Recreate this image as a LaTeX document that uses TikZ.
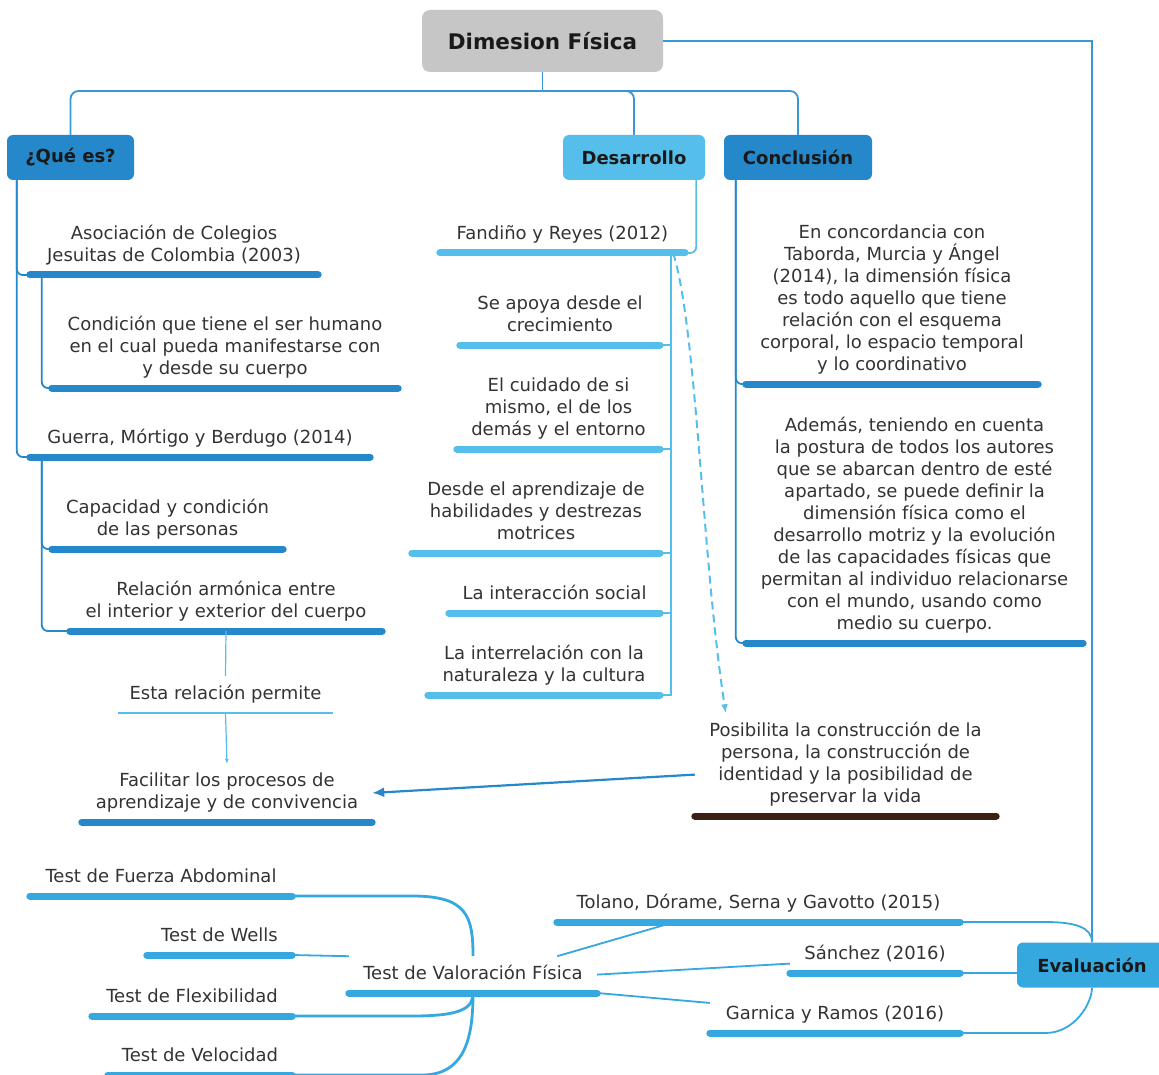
\documentclass[tikz,border=0pt]{standalone}
\usepackage{fontspec}
\setmainfont{DejaVu Sans}
\usetikzlibrary{arrows.meta}

\definecolor{ink}{HTML}{333333}
\definecolor{rootgray}{HTML}{C6C6C6}
\definecolor{dblue}{HTML}{2488CA}
\definecolor{lblue}{HTML}{56BEEB}
\definecolor{eblue}{HTML}{35A8E0}
\definecolor{trunk}{HTML}{3A96D4}
\definecolor{darkbrown}{HTML}{3B2215}

\tikzset{
  head/.style={rounded corners=6pt, minimum height=45pt, inner sep=0pt, text=black!90,
    font=\bfseries\fontsize{18}{22}\selectfont},
  topic/.style={anchor=south, align=center, inner xsep=0pt, inner ysep=9pt, text depth=4pt,
    minimum width=#1, text=ink, font=\fontsize{18}{22}\selectfont},
  uline/.style={line width=7pt, line cap=round, draw=#1},
  conn/.style={line width=1.8pt, draw=#1},
}

\begin{document}
\begin{tikzpicture}[x=1pt,y=-1pt]
\useasboundingbox (0,0) rectangle (1159,1075);

% cabeceras
\node (root) at (542.5,41) [head, fill=rootgray, minimum width=241pt, minimum height=62pt, rounded corners=8pt, font=\bfseries\fontsize{21.5}{26}\selectfont] {Dimesion Física};
\node (que) at (70.5,157.5) [head, fill=dblue, minimum width=127pt] {¿Qué es?};
\node (des) at (634,157.5) [head, fill=lblue, minimum width=142pt] {Desarrollo};
\node (concl) at (798,157.5) [head, fill=dblue, minimum width=148pt] {Conclusión};
\node (eval) at (1092,965) [head, fill=eblue, minimum width=150pt] {Evaluación};

% ¿Qué es?
\node (asoc) at (174,275) [topic=288pt] {Asociación de Colegios\\Jesuitas de Colombia (2003)};
\node (cond) at (225,388) [topic=346pt] {Condición que tiene el ser humano\\en el cual pueda manifestarse con\\y desde su cuerpo};
\node (guerra) at (200,457) [topic=340pt] {Guerra, Mórtigo y Berdugo (2014)};
\node (capac) at (167.5,549) [topic=231pt] {Capacidad y condición\\de las personas};
\node (relac) at (226,631) [topic=312pt] {Relación armónica entre\\el interior y exterior del cuerpo};
\node (perm) at (225.5,713) [topic=215pt] {Esta relación permite};
\node (facil) at (227,822) [topic=290pt] {Facilitar los procesos de\\aprendizaje y de convivencia};

% Desarrollo
\node (fand) at (562.5,253) [topic=245pt] {Fandiño y Reyes (2012)};
\node (apoya) at (560,345) [topic=200pt] {Se apoya desde el\\crecimiento};
\node (cuidado) at (558.5,449) [topic=203pt] {El cuidado de si\\mismo, el de los\\demás y el entorno};
\node (aprend) at (536,553) [topic=248pt] {Desde el aprendizaje de\\habilidades y destrezas\\motrices};
\node (social) at (554.5,613) [topic=211pt] {La interacción social};
\node (natur) at (544,695) [topic=232pt] {La interrelación con la\\naturaleza y la cultura};
\node (posib) at (845.5,816) [topic=301pt] {Posibilita la construcción de la\\persona, la construcción de\\identidad y la posibilidad de\\preservar la vida};

% Conclusión
\node (concl1) at (892,384) [topic=292pt] {En concordancia con\\Taborda, Murcia y Ángel\\(2014), la dimensión física\\es todo aquello que tiene\\relación con el esquema\\corporal, lo espacio temporal\\y lo coordinativo};
\node (concl2) at (914.5,643) [topic=337pt] {Además, teniendo en cuenta\\la postura de todos los autores\\que se abarcan dentro de esté\\apartado, se puede definir la\\dimensión física como el\\desarrollo motriz y la evolución\\de las capacidades físicas que\\permitan al individuo relacionarse\\con el mundo, usando como\\medio su cuerpo.};

% Evaluación
\node (tolano) at (758.5,922) [topic=403pt] {Tolano, Dórame, Serna y Gavotto (2015)};
\node (sanchez) at (875,973) [topic=170pt] {Sánchez (2016)};
\node (garnica) at (835,1033) [topic=250pt] {Garnica y Ramos (2016)};
\node (valor) at (473,993) [topic=248pt] {Test de Valoración Física};
\node (fuerza) at (161,896) [topic=262pt] {Test de Fuerza Abdominal};
\node (wells) at (219.5,955) [topic=145pt] {Test de Wells};
\node (flex) at (192,1016) [topic=200pt] {Test de Flexibilidad};
\node (velo) at (200,1075) [topic=184pt] {Test de Velocidad};

% subrayados
\draw [uline=dblue] (asoc.south west) -- (asoc.south east);
\draw [uline=dblue] (cond.south west) -- (cond.south east);
\draw [uline=dblue] (guerra.south west) -- (guerra.south east);
\draw [uline=dblue] (capac.south west) -- (capac.south east);
\draw [uline=dblue] (relac.south west) -- (relac.south east);
\draw [conn=lblue] (perm.south west) -- (perm.south east);
\draw [uline=dblue] (facil.south west) -- (facil.south east);
\draw [uline=lblue] (fand.south west) -- (fand.south east);
\draw [uline=lblue] (apoya.south west) -- (apoya.south east);
\draw [uline=lblue] (cuidado.south west) -- (cuidado.south east);
\draw [uline=lblue] (aprend.south west) -- (aprend.south east);
\draw [uline=lblue] (social.south west) -- (social.south east);
\draw [uline=lblue] (natur.south west) -- (natur.south east);
\draw [uline=darkbrown] (posib.south west) -- (posib.south east);
\draw [uline=dblue] (concl1.south west) -- (concl1.south east);
\draw [uline=dblue] (concl2.south west) -- (concl2.south east);
\draw [uline=eblue] (tolano.south west) -- (tolano.south east);
\draw [uline=eblue] (sanchez.south west) -- (sanchez.south east);
\draw [uline=eblue] (garnica.south west) -- (garnica.south east);
\draw [uline=eblue] (valor.south west) -- (valor.south east);
\draw [uline=eblue] (fuerza.south west) -- (fuerza.south east);
\draw [uline=eblue] (wells.south west) -- (wells.south east);
\draw [uline=eblue] (flex.south west) -- (flex.south east);
\draw [uline=eblue] (velo.south west) -- (velo.south east);

% ramas principales
\coordinate (hub) at (542.5,91);
\draw [conn=trunk] (root.south) -- (hub);
\draw [conn=trunk, rounded corners=8pt] (hub) -| (que.north);
\draw [conn=trunk, rounded corners=8pt] (hub) -| (des.north);
\draw [conn=trunk, rounded corners=8pt] (hub) -| (concl.north);
\draw [conn=trunk] (root.east) -| (eval.north);

% ¿Qué es?
\draw [conn=dblue, rounded corners=6pt] ([xshift=10pt]que.south west) |- (asoc.south west);
\draw [conn=dblue, rounded corners=6pt] ([xshift=10pt]que.south west) |- (guerra.south west);
\draw [conn=dblue, rounded corners=6pt] ([xshift=12pt]asoc.south west) |- (cond.south west);
\draw [conn=dblue, rounded corners=6pt] ([xshift=12pt]guerra.south west) |- (capac.south west);
\draw [conn=dblue, rounded corners=6pt] ([xshift=12pt]guerra.south west) |- (relac.south west);
\draw [conn=lblue, line width=1.2pt] (relac.south) -- (perm.north);
\draw [conn=lblue, line width=1.2pt, -{Latex[length=5pt,width=4pt]}] (perm.south) -- (facil.north);
\draw [conn=dblue, line width=2.2pt, -{Latex[length=12pt,width=10pt]}] ([yshift=-10pt]posib.west) -- (facil.east);

% Desarrollo
\draw [conn=lblue, rounded corners=6pt] ([xshift=-9pt]des.south east) |- (fand.south east);
\draw [conn=lblue] ([xshift=-14pt]fand.south east) |- (apoya.south east);
\draw [conn=lblue] ([xshift=-14pt]fand.south east) |- (cuidado.south east);
\draw [conn=lblue] ([xshift=-14pt]fand.south east) |- (aprend.south east);
\draw [conn=lblue] ([xshift=-14pt]fand.south east) |- (social.south east);
\draw [conn=lblue] ([xshift=-14pt]fand.south east) |- (natur.south east);
\draw [conn=lblue, line width=2pt, dash pattern=on 8pt off 5pt, -{Latex[length=9pt,width=7pt]}] ([xshift=-12pt]fand.south east) .. controls (697,330) and (702,560) .. ([xshift=31pt]posib.north west);

% Conclusión
\draw [conn=dblue, rounded corners=6pt] ([xshift=12pt]concl.south west) |- (concl1.south west);
\draw [conn=dblue, rounded corners=6pt] ([xshift=12pt]concl.south west) |- (concl2.south west);

% Evaluación
\draw [conn=eblue] (tolano.south east) -- ++(85,0) .. controls +(30,0) and +(0,-15) .. (eval.north);
\draw [conn=eblue] (sanchez.south east) -- (sanchez.south east -| eval.west);
\draw [conn=eblue] (garnica.south east) -- ++(85,0) .. controls +(30,0) and +(0,15) .. (eval.south);
\draw [conn=eblue] ([xshift=-40pt]valor.north east) -- ([xshift=118pt]tolano.south west);
\draw [conn=eblue] (valor.east) -- ([yshift=-9pt]sanchez.west);
\draw [conn=eblue] (valor.south east) -- ([yshift=-6pt]garnica.north west);

% tests
\draw [conn=eblue, line width=2.8pt] (fuerza.south east) -- ++(120,0) .. controls +(55,0) and +(0,-40) .. (valor.north);
\draw [conn=eblue] (wells.south east) -- (valor.north west);
\draw [conn=eblue, line width=2.8pt] (flex.south east) -- ++(120,0) .. controls +(50,0) and +(0,15) .. (valor.south);
\draw [conn=eblue, line width=2.8pt] (velo.south east) -- ++(130,0) .. controls +(45,0) and +(0,40) .. (valor.south);
\end{tikzpicture}
\end{document}
